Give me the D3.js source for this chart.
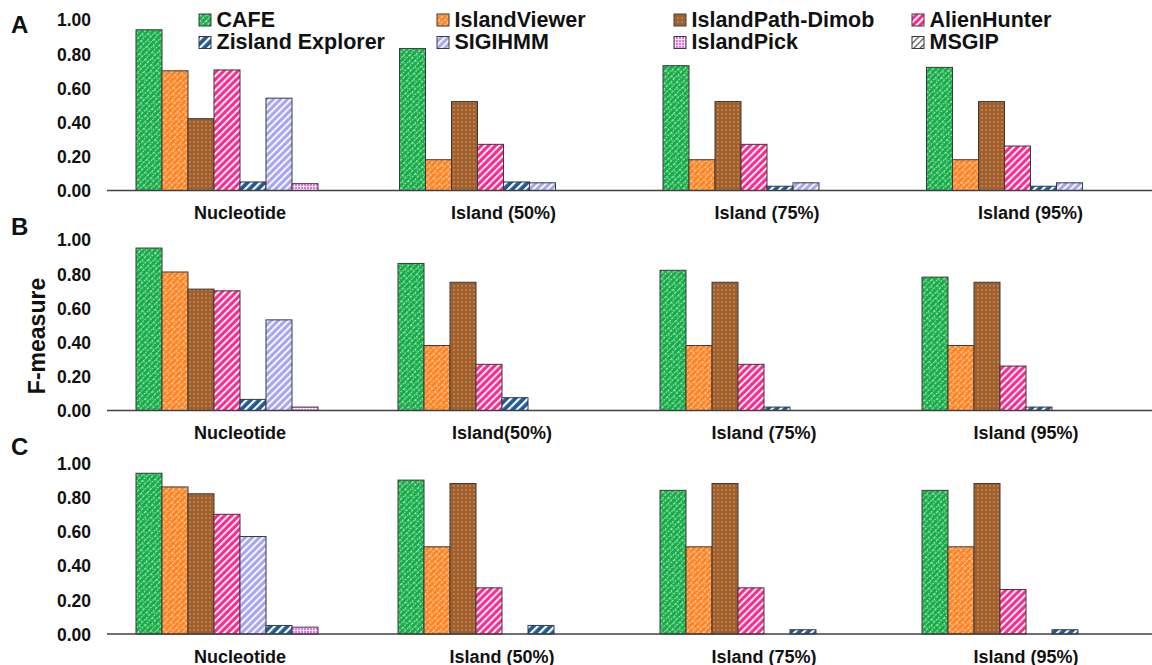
<!DOCTYPE html>
<html><head><meta charset="utf-8">
<script src="https://cdn.jsdelivr.net/npm/d3@7"></script>
<style>
body{margin:0;background:#fff}
text{font-family:Arial,"Liberation Sans",sans-serif;font-weight:bold;fill:#111}
</style>
</head><body>
<svg id="chart" width="1152" height="665"></svg>
<script>
// ---------------- data ----------------
const seriesNames = ["CAFE","IslandViewer","IslandPath-Dimob","AlienHunter","Zisland Explorer","SIGIHMM","IslandPick","MSGIP"];
const barOrderAB = ["CAFE","IslandViewer","IslandPath-Dimob","AlienHunter","Zisland Explorer","SIGIHMM","IslandPick","MSGIP"];
const barOrderC  = ["CAFE","IslandViewer","IslandPath-Dimob","AlienHunter","SIGIHMM","Zisland Explorer","IslandPick","MSGIP"];
const categoriesA = ["Nucleotide","Island (50%)","Island (75%)","Island (95%)"];
const categoriesB = ["Nucleotide","Island(50%)","Island (75%)","Island (95%)"];
const categoriesC = ["Nucleotide","Island (50%)","Island (75%)","Island (95%)"];
const yTickValues = [0,0.2,0.4,0.6,0.8,1.0];
const yLabel = "F-measure";

// Panel A
const cafeA        = [0.94, 0.83, 0.73, 0.72];
const islandViewerA= [0.70, 0.18, 0.18, 0.18];
const dimobA       = [0.42, 0.52, 0.52, 0.52];
const alienHunterA = [0.705,0.27, 0.27, 0.26];
const zislandA     = [0.05, 0.05, 0.025,0.025];
const sigihmmA     = [0.54, 0.045,0.045,0.045];
const islandPickA  = [0.04, 0, 0, 0];
const msgipA       = [0, 0, 0, 0];
// Panel B
const cafeB        = [0.95, 0.86, 0.82, 0.78];
const islandViewerB= [0.81, 0.38, 0.38, 0.38];
const dimobB       = [0.71, 0.75, 0.75, 0.75];
const alienHunterB = [0.70, 0.27, 0.27, 0.26];
const zislandB     = [0.065,0.075,0.02, 0.02];
const sigihmmB     = [0.53, 0, 0, 0];
const islandPickB  = [0.02, 0, 0, 0];
const msgipB       = [0, 0, 0, 0];
// Panel C
const cafeC        = [0.94, 0.90, 0.84, 0.84];
const islandViewerC= [0.86, 0.51, 0.51, 0.51];
const dimobC       = [0.82, 0.88, 0.88, 0.88];
const alienHunterC = [0.70, 0.27, 0.27, 0.26];
const zislandC     = [0.05, 0.05, 0.025,0.025];
const sigihmmC     = [0.57, 0, 0, 0];
const islandPickC  = [0.04, 0, 0, 0];
const msgipC       = [0, 0, 0, 0];

// ---------------- build ----------------
const svg = d3.select("#chart");
const defs = svg.append("defs");

function stripes(id, bg, fg, period, w){
  const p = defs.append("pattern").attr("id",id).attr("patternUnits","userSpaceOnUse")
    .attr("width",period).attr("height",period).attr("patternTransform","rotate(45)");
  p.append("rect").attr("width",period).attr("height",period).attr("fill",bg);
  p.append("rect").attr("x",0).attr("width",w).attr("height",period).attr("fill",fg);
}
function shingle(id, bg){
  const p = defs.append("pattern").attr("id",id).attr("patternUnits","userSpaceOnUse")
    .attr("width",10).attr("height",8).attr("patternTransform","rotate(-45)");
  p.append("rect").attr("width",10).attr("height",8).attr("fill",bg);
  p.append("path").attr("d","M0,0.5H10 M0,4.5H10 M1,0.5V4.5 M6,4.5V8.5")
    .attr("stroke","#fff").attr("stroke-width",0.8).attr("stroke-opacity",0.75)
    .attr("stroke-dasharray","2,1").attr("fill","none");
}
shingle("p-cafe","#17ad48");
shingle("p-iv","#ff8524");
(function(){
  const p = defs.append("pattern").attr("id","p-dimob").attr("patternUnits","userSpaceOnUse")
    .attr("width",4).attr("height",4);
  p.append("rect").attr("width",4).attr("height",4).attr("fill","#a15f2b");
  p.append("rect").attr("x",1.5).attr("y",1.5).attr("width",1).attr("height",1).attr("fill","#f0d2b4");
})();
stripes("p-ah","#ff2a8f","#fff",5,1.8);
stripes("p-zis","#1d5a99","#fff",6,2.2);
stripes("p-sig","#a6a6f4","#fff",5,1.8);
(function(){
  const p = defs.append("pattern").attr("id","p-pick").attr("patternUnits","userSpaceOnUse")
    .attr("width",3).attr("height",3);
  p.append("rect").attr("width",3).attr("height",3).attr("fill","#e66ee6");
  p.append("path").attr("d","M0,0.5H3 M0.5,0V3").attr("stroke","#fff").attr("stroke-width",0.8);
})();
stripes("p-msgip","#fff","#555",4.5,1.3);

const fillOf = {
  "CAFE":"url(#p-cafe)","IslandViewer":"url(#p-iv)","IslandPath-Dimob":"url(#p-dimob)",
  "AlienHunter":"url(#p-ah)","Zisland Explorer":"url(#p-zis)","SIGIHMM":"url(#p-sig)",
  "IslandPick":"url(#p-pick)","MSGIP":"url(#p-msgip)"
};

const panels = [
  {letter:"A", cats:categoriesA, order:barOrderAB, base:190.5, x0:108.25, step:263.5, letterY:32.5,
   vals:{"CAFE":cafeA,"IslandViewer":islandViewerA,"IslandPath-Dimob":dimobA,"AlienHunter":alienHunterA,
         "Zisland Explorer":zislandA,"SIGIHMM":sigihmmA,"IslandPick":islandPickA,"MSGIP":msgipA}},
  {letter:"B", cats:categoriesB, order:barOrderAB, base:410.5, x0:109, step:262, letterY:234.5,
   vals:{"CAFE":cafeB,"IslandViewer":islandViewerB,"IslandPath-Dimob":dimobB,"AlienHunter":alienHunterB,
         "Zisland Explorer":zislandB,"SIGIHMM":sigihmmB,"IslandPick":islandPickB,"MSGIP":msgipB}},
  {letter:"C", cats:categoriesC, order:barOrderC, base:634, x0:109, step:262, letterY:455,
   vals:{"CAFE":cafeC,"IslandViewer":islandViewerC,"IslandPath-Dimob":dimobC,"AlienHunter":alienHunterC,
         "Zisland Explorer":zislandC,"SIGIHMM":sigihmmC,"IslandPick":islandPickC,"MSGIP":msgipC}}
];

panels.forEach(P => {
  const g = svg.append("g");
  const y = d3.scaleLinear().domain([0,1]).range([P.base, P.base-171]);
  const x = d3.scaleBand().domain(P.cats).range([P.x0, P.x0 + P.cats.length*P.step]).padding(0);
  const inner = d3.scaleBand().domain(P.order).range([(P.step-208)/2, (P.step+208)/2]).padding(0);

  const rows = [];
  P.cats.forEach((c,ci) => P.order.forEach(s => {
    const v = P.vals[s][ci];
    if (v > 0) rows.push({c, s, v});
  }));
  g.selectAll("rect.bar").data(rows).join("rect").attr("class","bar")
    .attr("x", d => x(d.c) + inner(d.s))
    .attr("y", d => y(d.v))
    .attr("width", inner.bandwidth())
    .attr("height", d => P.base - y(d.v))
    .attr("fill", d => fillOf[d.s])
    .attr("stroke","#3a3a3a").attr("stroke-width",1);

  g.append("line").attr("x1",107).attr("x2",1152).attr("y1",P.base).attr("y2",P.base)
    .attr("stroke","#404040").attr("stroke-width",1.6);

  const ya = g.append("g").attr("transform","translate(91,0)")
    .call(d3.axisLeft(y).tickValues(yTickValues).tickSize(0).tickPadding(0).tickFormat(d3.format(".2f")));
  ya.select(".domain").remove();
  ya.selectAll("text").attr("font-size",17.5).attr("font-family",null).attr("fill","#111").attr("dy","0.36em");

  const xa = g.append("g").attr("transform",`translate(0,${P.base+28.5})`)
    .call(d3.axisBottom(x).tickSize(0).tickPadding(0));
  xa.select(".domain").remove();
  xa.selectAll("text").attr("font-size",18).attr("font-family",null).attr("fill","#111").attr("dy",0);

  g.append("text").attr("x",11).attr("y",P.letterY).attr("font-size",24).text(P.letter);
});

svg.append("text").attr("transform","translate(45,336) rotate(-90)")
  .attr("text-anchor","middle").attr("font-size",23).text(yLabel);

const legColX = [199, 437, 674, 912];
const leg = svg.append("g");
seriesNames.forEach((s,i) => {
  const cx = legColX[i%4], row = Math.floor(i/4);
  const top = row === 0 ? 14 : 36.5;
  leg.append("rect").attr("x",cx).attr("y",top).attr("width",12).attr("height",12)
    .attr("fill",fillOf[s]).attr("stroke","#3a3a3a").attr("stroke-width",1);
  leg.append("text").attr("x",cx+17.5).attr("y",top+12.5).attr("font-size",21.5).text(s);
});
</script>
</body></html>
